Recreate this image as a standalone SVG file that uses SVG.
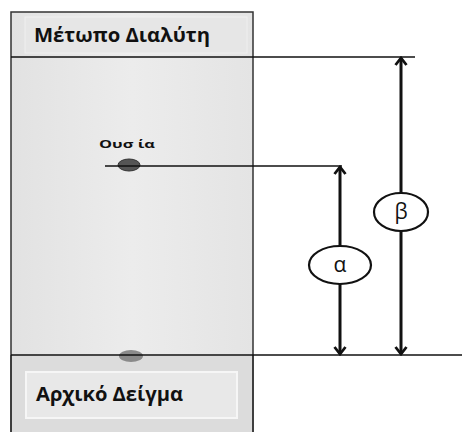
<svg xmlns="http://www.w3.org/2000/svg" width="462" height="432" viewBox="0 0 462 432">
<defs>
<style>
.lbl{font-family:"Open Sans","Liberation Sans",sans-serif;font-weight:bold;fill:#111}
.ref{stroke:#111;stroke-width:1.6;fill:none}
.dim{stroke:#111;stroke-width:3;fill:none}
.bub{fill:#fff;stroke:#111;stroke-width:2.2}
.greek{font-family:"Open Sans","DejaVu Sans",sans-serif;font-size:21px;fill:#111;text-anchor:middle}
</style>
<marker id="ah" viewBox="0 0 12 14" refX="10" refY="7" markerWidth="12" markerHeight="14" markerUnits="userSpaceOnUse" orient="auto-start-reverse">
<path d="M3,1.5 L10,7 L3,12.5" fill="none" stroke="#111" stroke-width="2.8"/>
</marker>
<linearGradient id="plate" x1="0" y1="0" x2="1" y2="0">
<stop offset="0" stop-color="#e2e2e2"/>
<stop offset="0.5" stop-color="#ececec"/>
<stop offset="1" stop-color="#e4e4e4"/>
</linearGradient>
</defs>
<rect width="462" height="432" fill="#fff"/>
<g id="plate">
<rect x="11" y="12" width="242" height="425" fill="url(#plate)" stroke="#333" stroke-width="1.5"/>
<rect x="12" y="356" width="240" height="80" fill="#dcdcdc"/>
<line x1="11" y1="355" x2="11" y2="432" stroke="#333" stroke-width="1.5"/>
<line x1="253" y1="355" x2="253" y2="432" stroke="#333" stroke-width="1.5"/>
</g>
<g id="front-label">
<rect x="25" y="17" width="222" height="36" fill="#e6e6e6" stroke="#efefef" stroke-width="1"/>
<text class="lbl" x="34" y="42" font-size="20" textLength="176" lengthAdjust="spacingAndGlyphs">Μέτωπο Διαλύτη</text>
</g>
<g id="start-label">
<rect x="26" y="372" width="211" height="46" fill="#e8e8e8" stroke="#f6f6f6" stroke-width="2"/>
<text class="lbl" x="36" y="401" font-size="20" textLength="147" lengthAdjust="spacingAndGlyphs">Αρχικό Δείγμα</text>
</g>
<g id="substance">
<text class="lbl" x="99" y="148" font-size="11" textLength="56" lengthAdjust="spacingAndGlyphs">Ουσ ία</text>
<ellipse cx="129" cy="165" rx="11" ry="6" fill="#555" stroke="#333" stroke-width="1"/>
</g>
<g id="sample-spot">
<ellipse cx="131" cy="356" rx="12" ry="6" fill="#8a8a8a"/>
</g>
<g id="connectors">
<line class="ref" x1="11" y1="57" x2="120" y2="57" stroke="#777"/>
<line class="ref" x1="120" y1="57" x2="415" y2="57"/>
<line class="ref" x1="105" y1="166" x2="342" y2="166"/>
<line class="ref" x1="11" y1="355" x2="462" y2="355"/>
<line class="dim" x1="340" y1="167" x2="340" y2="354" marker-start="url(#ah)" marker-end="url(#ah)"/>
<line class="dim" x1="401" y1="58" x2="401" y2="354" marker-start="url(#ah)" marker-end="url(#ah)"/>
</g>
<g id="alpha">
<ellipse class="bub" cx="340" cy="265" rx="31" ry="19"/>
<text class="greek" x="340" y="272">α</text>
</g>
<g id="beta">
<ellipse class="bub" cx="401" cy="212" rx="27" ry="19"/>
<text class="greek" x="401" y="219">β</text>
</g>
</svg>
